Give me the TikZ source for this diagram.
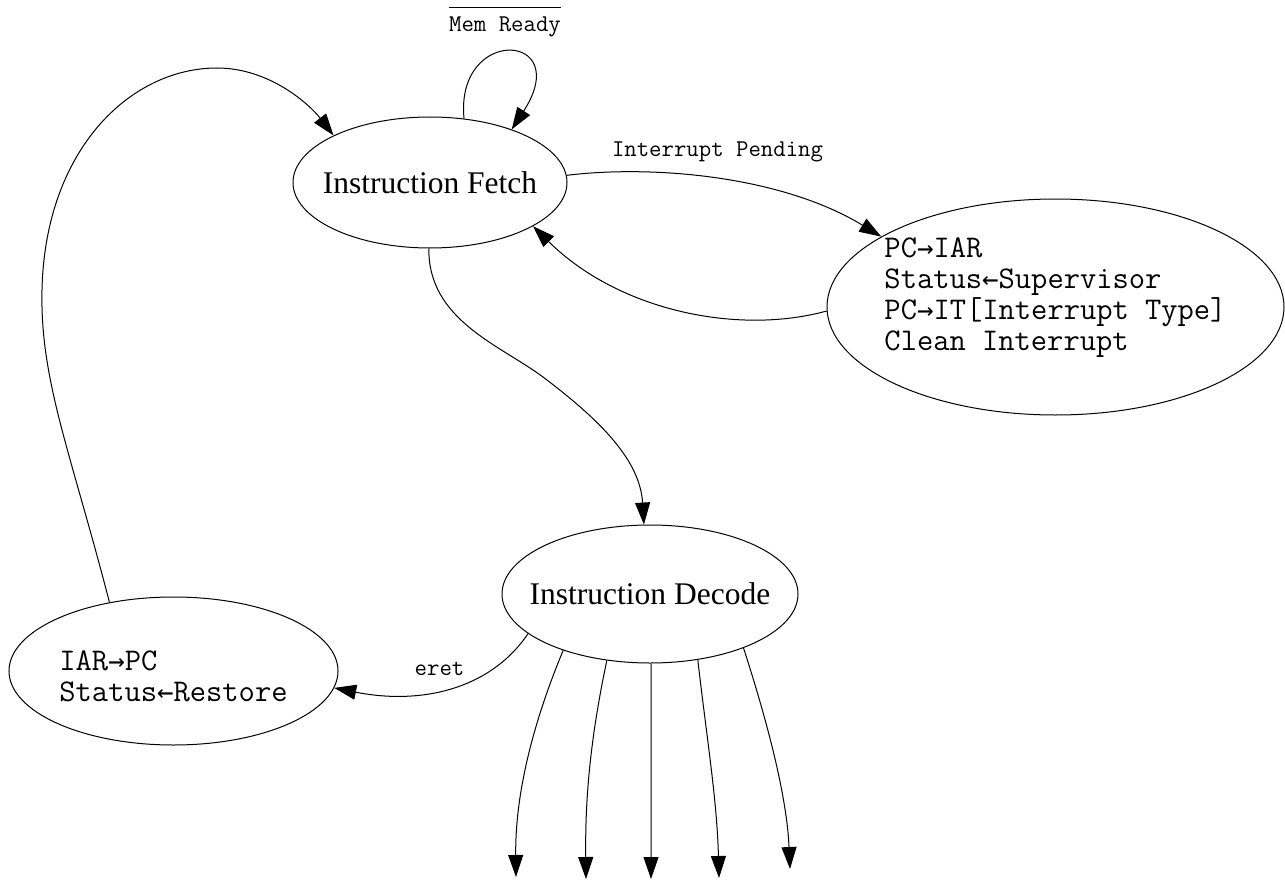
\documentclass[tikz,border=0pt]{standalone}
\usepackage{fontspec}
\setmainfont{Liberation Serif}
\newfontfamily\arrowfont{DejaVu Sans Mono}
\newcommand\rarr{{\arrowfont\fontsize{27.5}{31}\selectfont →}}
\newcommand\larr{{\arrowfont\fontsize{27.5}{31}\selectfont ←}}
\usetikzlibrary{arrows.meta,shapes.geometric}
\begin{document}
\begin{tikzpicture}[x=1pt,y=-1pt,
  state/.style={draw, ellipse, line width=1pt, inner sep=0pt},
  edge/.style={draw, line width=1pt, -{Triangle[length=22pt,width=15pt]}},
  elabel/.style={font=\fontsize{24.1}{24}\selectfont\ttfamily, inner sep=0pt},
  ttext/.style={font=\fontsize{31.6}{31}\selectfont\ttfamily, align=left, inner sep=0pt},
  ntext/.style={font=\fontsize{31.5}{31.5}\selectfont, inner sep=0pt}]
\useasboundingbox (0,0) rectangle (1285,880);

% states
\node[state, minimum width=274pt, minimum height=131pt] (fetch) at (430,182.5) {};
\node[ntext] (fetchtxt) at (430,182.5) {Instruction Fetch};
\node[state, minimum width=457pt, minimum height=216pt] (intr) at (1055.5,307) {};
\node[ttext] (intrtxt) at (1055.5,298) {PC\rarr IAR\\Status\larr Supervisor\\PC\rarr IT[Interrupt Type]\\Clean Interrupt};
\node[state, minimum width=296pt, minimum height=138pt] (dec) at (650,594) {};
\node[ntext] (dectxt) at (650,594) {Instruction Decode};
\node[state, minimum width=329pt, minimum height=148pt] (iar) at (173.5,671) {};
\node[ttext] (iartxt) at (173.5,676) {IAR\rarr PC\\Status\larr Restore};

% free ends
\coordinate (o1) at (516,877);
\coordinate (o2) at (586,879);
\coordinate (o3) at (651,879);
\coordinate (o4) at (719,878);
\coordinate (o5) at (790,869);

% edges
\draw[edge] (fetch.62.9) .. controls (455,25) and (575,32) .. (fetch.33.3);
\node[elabel] (mem) at (505,27) {Mem Ready};
\draw[line width=1pt] ([yshift=9pt]mem.north west) -- ([yshift=9pt]mem.north east);

\draw[edge] (iar.133.2) .. controls (70,450) and (40,380) .. (42,290)
  .. controls (45,150) and (130,68) .. (217,68)
  .. controls (270,68) and (310,105) .. (fetch.154.4);

\draw[edge] (fetch.3.1) .. controls (650,165) and (780,175) .. (intr.158.7);
\node[elabel] (pend) at (717.5,152) {Interrupt Pending};

\draw[edge] (intr.-179) .. controls (740,335) and (620,312) .. (fetch.-23.4);

\draw[edge] (fetch.-91.7) .. controls (428,320) and (500,345) .. (543,377)
  .. controls (600,420) and (640,460) .. (dec.95.8);

\draw[edge] (dec.-162.3) .. controls (490,690) and (420,705) .. (iar.-6.8);
\node[elabel] (eret) at (439.5,669) {eret};

\draw[edge] (dec.-147.5) .. controls (530,730) and (515,800) .. (o1);
\draw[edge] (dec.-123.3) .. controls (590,740) and (585,800) .. (o2);
\draw[edge] (dec.-89) -- (o3);
\draw[edge] (dec.-54.5) .. controls (707,740) and (717,800) .. (o4);
\draw[edge] (dec.-30.9) .. controls (770,730) and (787,800) .. (o5);
\end{tikzpicture}
\end{document}
